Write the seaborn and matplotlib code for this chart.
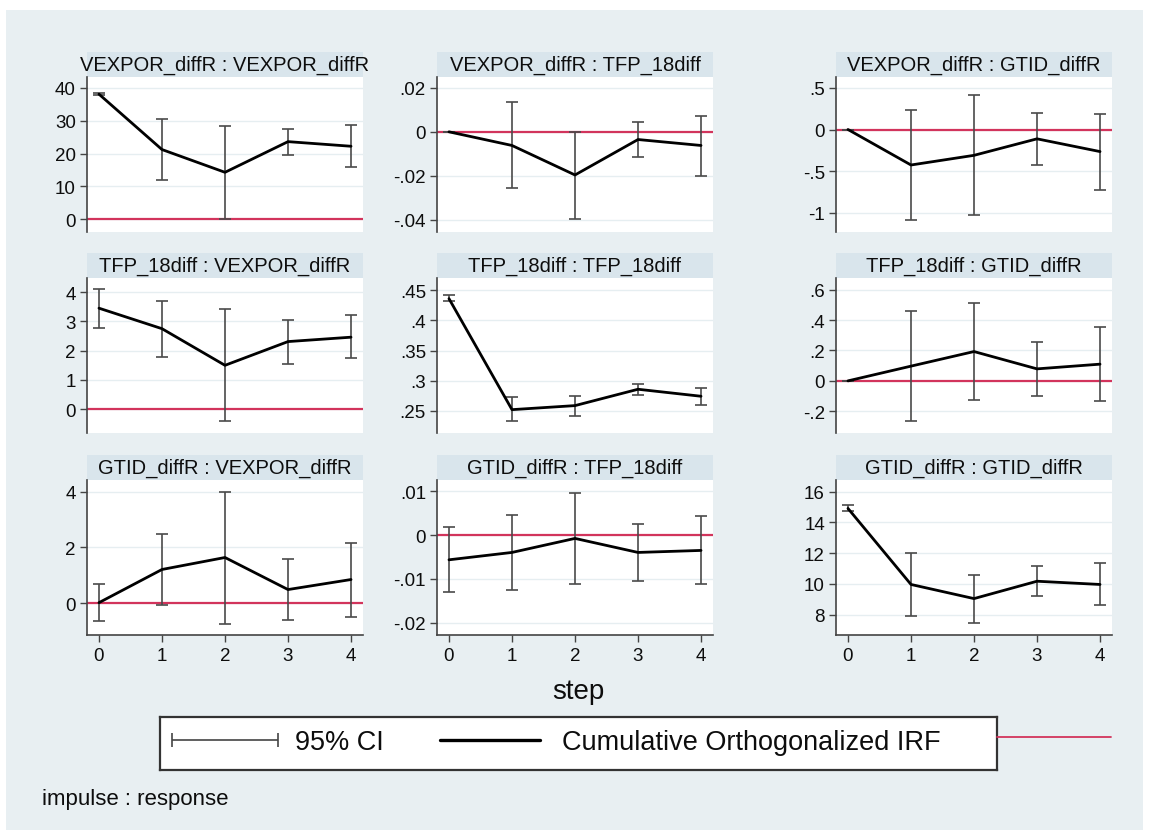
import numpy as np
import pandas as pd
import matplotlib
matplotlib.use("Agg")
import matplotlib.pyplot as plt
from matplotlib.patches import Rectangle
from matplotlib.lines import Line2D
import seaborn as sns

# ---------------- data ----------------
steps = [0, 1, 2, 3, 4]

titles = [
    "VEXPOR_diffR : VEXPOR_diffR", "VEXPOR_diffR : TFP_18diff", "VEXPOR_diffR : GTID_diffR",
    "TFP_18diff : VEXPOR_diffR", "TFP_18diff : TFP_18diff", "TFP_18diff : GTID_diffR",
    "GTID_diffR : VEXPOR_diffR", "GTID_diffR : TFP_18diff", "GTID_diffR : GTID_diffR",
]

irf_vv = [38.0, 21.2, 14.3, 23.6, 22.2]
lo_vv = [37.6, 11.9, 0.1, 19.7, 15.9]
hi_vv = [38.4, 30.6, 28.3, 27.4, 28.6]

irf_vt = [0.0, -0.0062, -0.0196, -0.0035, -0.0062]
lo_vt = [0.0, -0.0257, -0.0397, -0.0116, -0.0199]
hi_vt = [0.0, 0.0135, 0.0000, 0.0043, 0.0073]

irf_vg = [0.0, -0.426, -0.31, -0.112, -0.265]
lo_vg = [0.0, -1.09, -1.03, -0.426, -0.723]
hi_vg = [0.0, 0.237, 0.414, 0.197, 0.19]

irf_tv = [3.45, 2.75, 1.50, 2.31, 2.46]
lo_tv = [2.78, 1.80, -0.41, 1.55, 1.74]
hi_tv = [4.09, 3.68, 3.43, 3.05, 3.21]

irf_tt = [0.4362, 0.2522, 0.2589, 0.2860, 0.2744]
lo_tt = [0.4323, 0.2328, 0.2423, 0.2766, 0.2606]
hi_tt = [0.4417, 0.2727, 0.2755, 0.2954, 0.2888]

irf_tg = [0.0, 0.097, 0.193, 0.079, 0.11]
lo_tg = [0.0, -0.266, -0.127, -0.101, -0.13]
hi_tg = [0.0, 0.459, 0.51, 0.257, 0.352]

irf_gv = [0.02, 1.21, 1.64, 0.49, 0.85]
lo_gv = [-0.65, -0.06, -0.73, -0.60, -0.49]
hi_gv = [0.68, 2.50, 4.00, 1.59, 2.17]

irf_gt = [-0.00564, -0.00396, -0.00076, -0.00396, -0.0035]
lo_gt = [-0.0130, -0.01257, -0.0111, -0.01043, -0.0111]
hi_gt = [0.00183, 0.00457, 0.00967, 0.00259, 0.00434]

irf_gg = [14.91, 9.96, 9.04, 10.17, 9.96]
lo_gg = [14.76, 7.89, 7.43, 9.22, 8.65]
hi_gg = [15.11, 12.02, 10.59, 11.13, 11.33]

irfs = [irf_vv, irf_vt, irf_vg, irf_tv, irf_tt, irf_tg, irf_gv, irf_gt, irf_gg]
los = [lo_vv, lo_vt, lo_vg, lo_tv, lo_tt, lo_tg, lo_gv, lo_gt, lo_gg]
his = [hi_vv, hi_vt, hi_vg, hi_tv, hi_tt, hi_tg, hi_gv, hi_gt, hi_gg]

yticks = [
    [0, 10, 20, 30, 40], [-0.04, -0.02, 0, 0.02], [-1, -0.5, 0, 0.5],
    [0, 1, 2, 3, 4], [0.25, 0.3, 0.35, 0.4, 0.45], [-0.2, 0, 0.2, 0.4, 0.6],
    [0, 2, 4], [-0.02, -0.01, 0, 0.01], [8, 10, 12, 14, 16],
]
yticklabels = [
    ["0", "10", "20", "30", "40"], ["-.04", "-.02", "0", ".02"], ["-1", "-.5", "0", ".5"],
    ["0", "1", "2", "3", "4"], [".25", ".3", ".35", ".4", ".45"], ["-.2", "0", ".2", ".4", ".6"],
    ["0", "2", "4"], ["-.02", "-.01", "0", ".01"], ["8", "10", "12", "14", "16"],
]
ylims = [
    (-3.8, 43.2), (-0.0455, 0.0249), (-1.23, 0.63),
    (-0.81, 4.48), (0.2135, 0.4704), (-0.343, 0.677),
    (-1.14, 4.42), (-0.0228, 0.01257), (6.67, 16.76),
]
xticks = [0, 1, 2, 3, 4]

rows = []
for t, irf, lo, hi in zip(titles, irfs, los, his):
    for s, v, l, h in zip(steps, irf, lo, hi):
        rows.append({"panel": t, "step": s, "irf": v, "lo": l, "hi": h})
df = pd.DataFrame(rows)

# ---------------- style ----------------
sns.set_theme(style="white")
plt.rcParams["font.family"] = ["Liberation Sans", "DejaVu Sans"]

W, H = 1149, 837
fig = plt.figure(figsize=(W / 100, H / 100), dpi=100)
fig.patch.set_facecolor("white")
BG = "#e8eff2"
STRIP = "#d9e5ec"
RED = "#d2345c"
TXT = "#0d0d0d"
fig.patches.append(Rectangle((6 / W, 1 - 831 / H), (1143 - 6) / W, (831 - 11) / H,
                             transform=fig.transFigure, facecolor=BG, edgecolor="none", zorder=-10))

col_left = [87, 437, 836]
col_w = 276
row_top = [78, 279, 481]
row_h = 155
strip_h = 25

for i, t in enumerate(titles):
    r, c = divmod(i, 3)
    ax = fig.add_axes([col_left[c] / W, 1 - (row_top[r] + row_h) / H, col_w / W, row_h / H])
    ax.set_facecolor("white")
    sub = df[df["panel"] == t]
    ax.axhline(0, color=RED, lw=1.6, zorder=2)
    ax.errorbar(sub["step"], sub["irf"],
                yerr=[sub["irf"] - sub["lo"], sub["hi"] - sub["irf"]],
                fmt="none", ecolor="#4a4a4a", elinewidth=1.2, capsize=4, capthick=1.2, zorder=3)
    sns.lineplot(data=sub, x="step", y="irf", ax=ax, color="black", lw=2.0, zorder=4,
                 estimator=None, sort=False)
    ax.set_xlim(-0.19, 4.19)
    ax.set_ylim(*ylims[i])
    ax.set_yticks(yticks[i])
    ax.set_yticklabels(yticklabels[i], fontsize=13.5)
    ax.grid(axis="y", color="#e6eef1", lw=1.0)
    ax.set_axisbelow(True)
    ax.set_xlabel("")
    ax.set_ylabel("")
    for sp in ["top", "right"]:
        ax.spines[sp].set_visible(False)
    ax.spines["left"].set_color("#444444")
    ax.spines["left"].set_linewidth(1.2)
    ax.tick_params(axis="y", which="both", left=True, length=5, width=1.0, color="#444444",
                   pad=3, labelcolor=TXT)
    if r == 2:
        ax.spines["bottom"].set_color("#444444")
        ax.spines["bottom"].set_linewidth(1.2)
        ax.set_xticks(xticks)
        ax.set_xticklabels([str(x) for x in xticks], fontsize=13.5)
        ax.tick_params(axis="x", bottom=True, length=5, width=1.0, color="#444444",
                       pad=4, labelcolor=TXT)
    else:
        ax.spines["bottom"].set_visible(False)
        ax.set_xticks([])
    # title strip
    ax.add_patch(Rectangle((0, 1), 1, strip_h / row_h, transform=ax.transAxes,
                           facecolor=STRIP, edgecolor="none", clip_on=False, zorder=1))
    ax.text(0.5, 1 + strip_h / row_h / 2, t, transform=ax.transAxes, ha="center",
            va="center", fontsize=14.5, color=TXT, clip_on=False)

# x-axis title
fig.text(578 / W, 1 - 692 / H, "step", ha="center", va="center", fontsize=20, color=TXT)

# legend box
lx0, lx1, ly0, ly1 = 160, 997, 718, 771
lax = fig.add_axes([lx0 / W, 1 - ly1 / H, (lx1 - lx0) / W, (ly1 - ly0) / H])
lax.set_xlim(lx0, lx1)
lax.set_ylim(ly1, ly0)
lax.set_facecolor("white")
lax.set_xticks([])
lax.set_yticks([])
for sp in lax.spines.values():
    sp.set_visible(True)
    sp.set_color("#333333")
    sp.set_linewidth(1.6)
lax.errorbar([225], [741], xerr=[[53], [53]], fmt="none", ecolor="#444444",
             elinewidth=1.2, capsize=5, capthick=1.2)
lax.text(295, 743, "95% CI", ha="left", va="center", fontsize=19.5, color=TXT)
lax.plot([440, 540], [741, 741], color="black", lw=2.4)
lax.text(562, 743, "Cumulative Orthogonalized IRF", ha="left", va="center", fontsize=19.5,
         color=TXT)
fig.lines.append(Line2D([997 / W, 1111 / W], [1 - 738 / H, 1 - 738 / H],
                        transform=fig.transFigure, color=RED, lw=1.3))

fig.text(42 / W, 1 - 800 / H, "impulse : response", ha="left", va="center", fontsize=16,
         color=TXT)

fig.savefig("out.png", dpi=100, facecolor=fig.get_facecolor())
